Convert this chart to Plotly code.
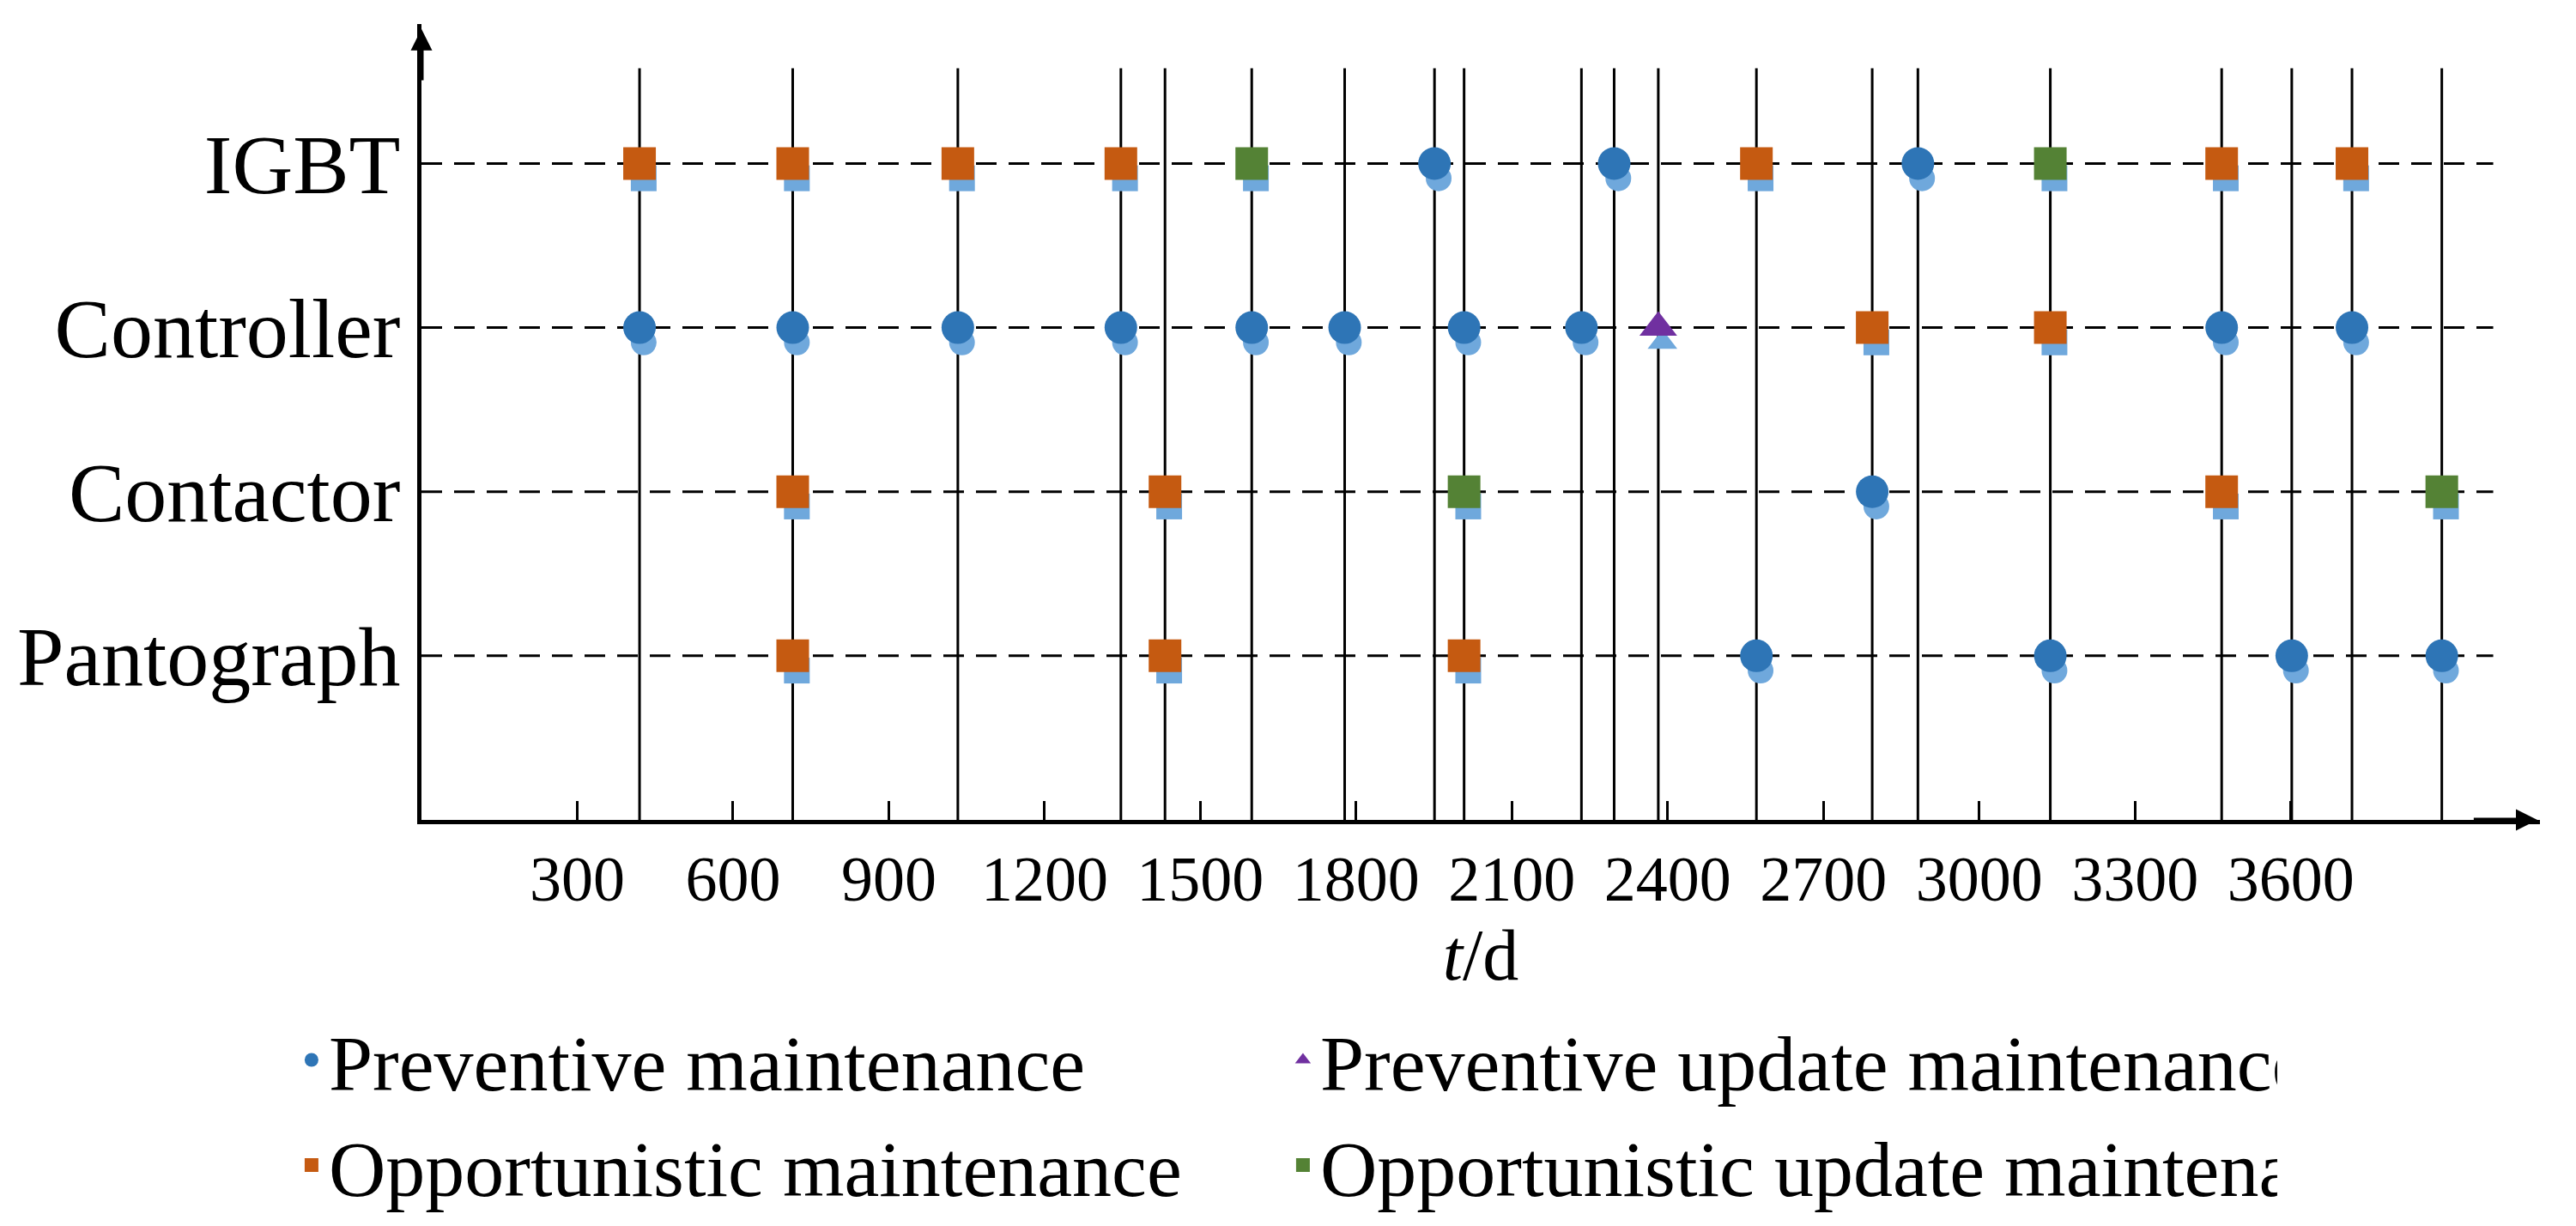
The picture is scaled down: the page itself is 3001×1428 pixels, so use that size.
import plotly.graph_objects as go

components = ["Pantograph", "Contactor", "Controller", "IGBT"]
xticks = [300, 600, 900, 1200, 1500, 1800, 2100, 2400, 2700, 3000, 3300, 3600]

# events per type: (time, component)
pm_t = [1951, 2297, 2882, 420, 715, 1033, 1347, 1599, 1778, 2008, 2234, 3467, 3718, 2794, 2571, 3137, 3602, 3891]
pm_c = ["IGBT", "IGBT", "IGBT"] + ["Controller"] * 10 + ["Contactor"] + ["Pantograph"] * 4
pum_t = [2382]
pum_c = ["Controller"]
om_t = [420, 715, 1033, 1347, 2571, 3467, 3718, 2794, 3137, 715, 1432, 3467, 715, 1432, 2008]
om_c = ["IGBT"] * 7 + ["Controller"] * 2 + ["Contactor"] * 3 + ["Pantograph"] * 3
oum_t = [1599, 3137, 2008, 3891]
oum_c = ["IGBT", "IGBT", "Contactor", "Contactor"]

ypos = {c: i + 1 for i, c in enumerate(components)}
font = "Liberation Serif"
fig = go.Figure()

vlines = sorted(set(pm_t + pum_t + om_t + oum_t))
for t in vlines:
    fig.add_shape(type="line", x0=t, x1=t, y0=0, y1=4.58, line=dict(color="black", width=3), layer="below")
for c in components:
    fig.add_shape(type="line", x0=0, x1=3990, y0=ypos[c], y1=ypos[c],
                  line=dict(color="black", width=3, dash="24px,14px"), layer="below")

groups = [
    ("Preventive maintenance", pm_t, pm_c, "circle", "#2e75b6"),
    ("Preventive update maintenance", pum_t, pum_c, "triangle-up", "#7030a0"),
    ("Opportunistic maintenance", om_t, om_c, "square", "#c55a11"),
    ("Opportunistic update maintenance", oum_t, oum_c, "square", "#548235"),
]
for name, ts, cs, sym, col in groups:
    fig.add_trace(go.Scatter(x=[t + 8 for t in ts], y=[ypos[c] - 0.09 for c in cs], mode="markers",
                             marker=dict(symbol=sym, size=30, color="#6fa8dc", line=dict(width=0)),
                             showlegend=False, hoverinfo="skip"))
for name, ts, cs, sym, col in groups:
    fig.add_trace(go.Scatter(x=ts, y=[ypos[c] for c in cs], mode="markers", name=name,
                             marker=dict(symbol=sym, size=38, color=col, line=dict(width=0))))

fig.add_annotation(x=4075, y=0, ax=3950, ay=0, xref="x", yref="y", axref="x", ayref="y",
                   showarrow=True, arrowhead=2, arrowsize=1, arrowwidth=5, arrowcolor="black", text="")
fig.add_annotation(x=0, y=4.82, ax=0, ay=4.5, xref="x", yref="y", axref="x", ayref="y",
                   showarrow=True, arrowhead=2, arrowsize=1, arrowwidth=5, arrowcolor="black", text="")

fig.update_xaxes(range=[0, 4080], tickvals=xticks, ticktext=[str(v) for v in xticks], ticks="inside",
                 ticklen=22, tickwidth=3, tickcolor="black", showgrid=False, zeroline=False, showline=True,
                 linewidth=5, linecolor="black", tickfont=dict(size=74, family=font, color="black"),
                 title=dict(text="<i>t</i>/d", font=dict(size=84, family=font, color="black"), standoff=20))
fig.update_yaxes(range=[0, 4.85], tickvals=[ypos[c] for c in components], ticktext=components, ticks="",
                 showgrid=False, zeroline=False, showline=True, linewidth=5, linecolor="black",
                 tickfont=dict(size=98, family=font, color="black"))
fig.update_layout(width=3001, height=1428, plot_bgcolor="white", paper_bgcolor="white",
                  margin=dict(l=473, r=50, t=20, b=471),
                  legend=dict(orientation="h", x=-0.06, y=-0.23, xanchor="left", yanchor="top",
                              entrywidth=1110, entrywidthmode="pixels", tracegroupgap=0,
                              font=dict(size=92, family=font, color="black"), itemsizing="trace"))
fig.write_html("out.html")
